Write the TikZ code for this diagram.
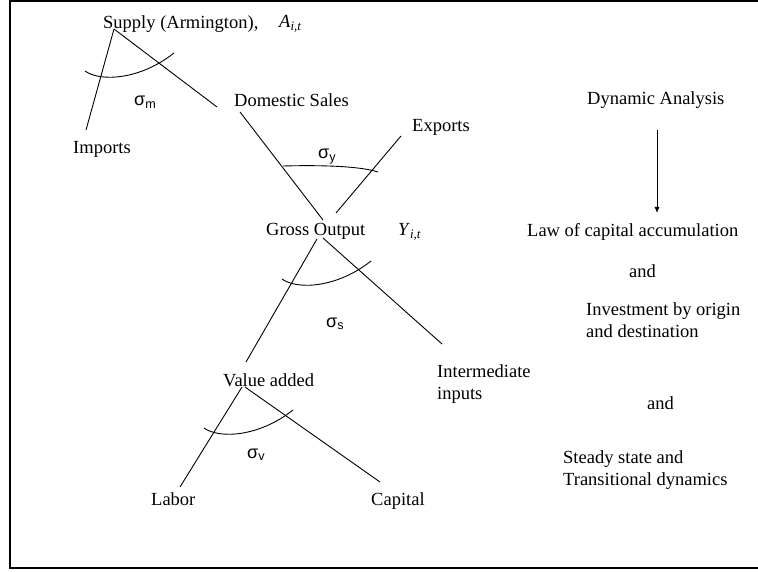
\documentclass[tikz,border=0pt]{standalone}
\usepackage{fontspec}
\setmainfont{Liberation Serif}
\newfontfamily\sigfont{Liberation Sans}
\usetikzlibrary{arrows.meta,calc}

\tikzset{
  lbl/.style={inner sep=0pt, anchor=base west},
  sig/.style={lbl, font=\sigfont\fontsize{18}{22}\selectfont},
  branch/.style={line width=0.9pt},
  elast/.pic={\draw[branch] (0,0) .. controls (15,11) and (55,9) .. (89,-18);}
}

\begin{document}
\begin{tikzpicture}[x=1pt, y=-1pt, font=\fontsize{18.5}{22}\selectfont]
\useasboundingbox (0,0) rectangle (758,572);
\clip (0,0) rectangle (758,572);
\draw[line width=2pt] (10,1) rectangle (800,568);

% nesting tree
\node[lbl] (supply) at (103,29) {Supply (Armington),};
\node[lbl] (A) at (279,28) {\textit{A}\textsubscript{\textit{i,t}}};
\node[lbl] (imports) at (73,154) {Imports};
\node[lbl] (domestic) at (234,107) {Domestic Sales};
\node[lbl] (exports) at (412,132) {Exports};
\node[lbl] (gross) at (266,236) {Gross Output};
\node[lbl] (Y) at (398,236) {\textit{Y}\textsubscript{\textit{i,t}}};
\node[lbl, align=left] (interm) at (437,399) {Intermediate\\inputs};
\node[lbl] (valadd) at (223,386) {Value added};
\node[lbl] (labor) at (151,505) {Labor};
\node[lbl] (capital) at (371,505) {Capital};

\node[sig] (sm) at (134,106) {σ\textsubscript{m}};
\node[sig] (sy) at (318,159) {σ\textsubscript{y}};
\node[sig] (ss) at (326,327) {σ\textsubscript{s}};
\node[sig] (sv) at (247,458) {σ\textsubscript{v}};

\coordinate (supply-v) at (114,29);
\coordinate (imports-e) at (86,130);
\coordinate (domestic-e) at (217,107);
\coordinate (domestic-v) at (240,112);
\coordinate (exports-v) at (401,136);
\coordinate (gross-a) at (323,220);
\coordinate (gross-b) at (336,213);
\coordinate (gross-v) at (317,239);
\coordinate (gross-w) at (323,238);
\coordinate (valadd-e) at (246,362);
\coordinate (interm-e) at (442,344);
\coordinate (valadd-v) at (242,387);
\coordinate (valadd-w) at (245,387);
\coordinate (labor-e) at (180,487);
\coordinate (capital-e) at (380,482);

\draw[branch] (supply-v) -- (imports-e);
\draw[branch] (supply-v) -- (domestic-e);
\draw[branch] (domestic-v) -- (gross-a);
\draw[branch] (exports-v) -- (gross-b);
\draw[branch] (gross-v) -- (valadd-e);
\draw[branch] (gross-w) -- (interm-e);
\draw[branch] (valadd-v) -- (labor-e);
\draw[branch] (valadd-w) -- (capital-e);

\pic at (85,71) {elast};
\pic at (282,279) {elast};
\pic at (204,428) {elast};
\draw[branch] (283,166) .. controls (320,165) and (360,166) .. (378,172);

% dynamics column
\node[lbl] (dyn) at (587,105) {Dynamic Analysis};
\node[lbl] (law) at (527,237) {Law of capital accumulation};
\node[lbl] (and1) at (629,278) {and};
\node[lbl, align=left] (invest) at (586,337) {Investment by origin\\and destination};
\node[lbl] (and2) at (647,409) {and};
\node[lbl, align=left] (steady) at (563,485) {Steady state and\\Transitional dynamics};

\coordinate (dyn-out) at (657,130);
\coordinate (law-in) at (657,213);
\draw[branch, -{Latex[length=6pt,width=5pt]}] (dyn-out) -- (law-in);
\end{tikzpicture}
\end{document}
